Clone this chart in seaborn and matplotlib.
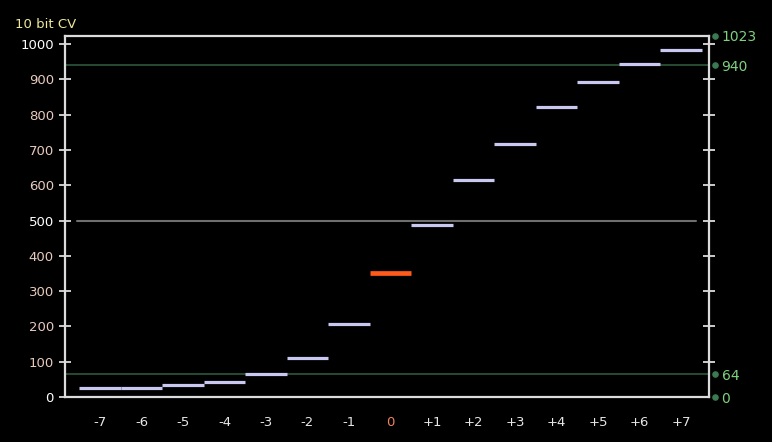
import pandas as pd
import seaborn as sns
import matplotlib.pyplot as plt
import matplotlib.transforms as mtransforms

sns.set_style("dark")
plt.rcParams["font.family"] = ["DejaVu Sans"]

# exposure stops and 10 bit code values
stops = [-7, -6, -5, -4, -3, -2, -1, 0, 1, 2, 3, 4, 5, 6, 7]
cv = [26, 26, 33, 42, 64, 111, 207, 351, 487, 615, 716, 821, 892, 944, 982]
stop_labels = ["-7", "-6", "-5", "-4", "-3", "-2", "-1", "0",
               "+1", "+2", "+3", "+4", "+5", "+6", "+7"]
left_ticks = [0, 100, 200, 300, 400, 500, 600, 700, 800, 900, 1000]
right_marks = [0, 64, 940, 1023]
legal_lines = [64, 940]
mid_line = 500

rows = []
for s, v in zip(stops, cv):
    rows.append({"stop": s, "x": s - 0.5, "cv": v})
    rows.append({"stop": s, "x": s + 0.5, "cv": v})
df = pd.DataFrame(rows)

bg = "black"
spine_col = "#dcdcdc"
fig = plt.figure(figsize=(7.72, 4.42), dpi=100, facecolor=bg)
ax = fig.add_axes([0.0842, 0.1018, 0.8342, 0.8168])
ax.set_facecolor(bg)

for y in legal_lines:
    ax.axhline(y, color="#2f5f3f", lw=1.1, zorder=1)
ax.axhline(mid_line, xmin=0.0186, xmax=0.98, color="#6e6e6e", lw=1.5, zorder=1)

sns.lineplot(data=df[df["stop"] != 0], x="x", y="cv", units="stop",
             estimator=None, color="#c8c8f0", lw=2.3, ax=ax, zorder=3,
             solid_capstyle="butt")
sns.lineplot(data=df[df["stop"] == 0], x="x", y="cv", units="stop",
             estimator=None, color="#ff5a1a", lw=3.4, ax=ax, zorder=4,
             solid_capstyle="butt")

ax.set_xlim(-7.843, 7.675)
ax.set_ylim(0, 1023)
ax.grid(False)
ax.set_xlabel("")
ax.set_ylabel("")

for sp in ax.spines.values():
    sp.set_visible(True)
    sp.set_color(spine_col)
    sp.set_linewidth(1.6)

ax.set_xticks(stops)
ax.set_xticklabels(stop_labels)
ax.set_yticks(left_ticks)
ax.set_yticklabels([str(t) for t in left_ticks])
ax.tick_params(axis="both", direction="inout", length=8, width=1.3,
               color=spine_col, labelsize=9.5)
ax.tick_params(axis="x", pad=10, labelcolor="#e6e6e6")
ax.tick_params(axis="y", pad=4, labelcolor="#e8cbbd")
for lab, t in zip(ax.get_yticklabels(), left_ticks):
    if t in (0, 500, 1000):
        lab.set_color("white")
for lab, s in zip(ax.get_xticklabels(), stops):
    if s == 0:
        lab.set_color("#f08060")

# right side: unlabeled ticks every 100, green marks at legal/full range values
ax2 = ax.twinx()
ax2.set_ylim(ax.get_ylim())
ax2.set_yticks(right_marks)
ax2.set_yticklabels([str(t) for t in right_marks])
ax2.tick_params(axis="y", length=0, pad=9, labelsize=10, labelcolor="#7fd07f")
ax2.set_yticks(left_ticks[1:], minor=True)
ax2.tick_params(axis="y", which="minor", direction="inout", length=8,
                width=1.3, color=spine_col)
for sp in ax2.spines.values():
    sp.set_visible(False)
ax2.grid(False)

trans = mtransforms.blended_transform_factory(ax.transAxes, ax.transData)
ax.scatter([1.0093] * len(right_marks), right_marks, s=14, color="#3c7a50",
           transform=trans, clip_on=False, zorder=5)

fig.text(0.019, 0.945, "10 bit CV", color="#eee89a", fontsize=9.5, va="center")

fig.savefig("out.png", dpi=100, facecolor=bg)
